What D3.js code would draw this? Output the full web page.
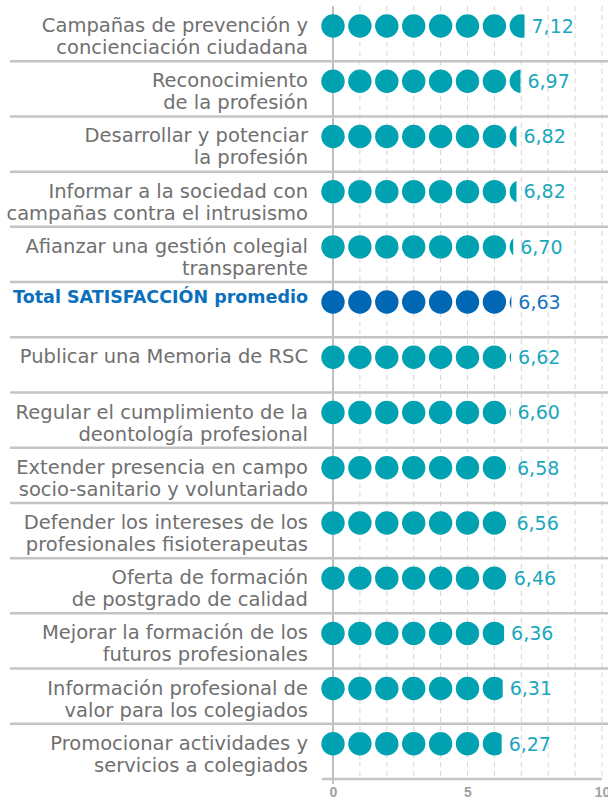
<!DOCTYPE html>
<html>
<head>
<meta charset="utf-8">
<script src="https://cdn.jsdelivr.net/npm/d3@7"></script>
<style>
  body { margin: 0; background: #fff; }
  svg { display: block; font-family: "DejaVu Sans", sans-serif; }
</style>
</head>
<body>
<div id="chart"></div>
<script>
var categories = [
  "Campañas de prevención y\nconcienciación ciudadana",
  "Reconocimiento\nde la profesión",
  "Desarrollar y potenciar\nla profesión",
  "Informar a la sociedad con\ncampañas contra el intrusismo",
  "Afianzar una gestión colegial\ntransparente",
  "Total SATISFACCIÓN promedio",
  "Publicar una Memoria de RSC",
  "Regular el cumplimiento de la\ndeontología profesional",
  "Extender presencia en campo\nsocio-sanitario y voluntariado",
  "Defender los intereses de los\nprofesionales fisioterapeutas",
  "Oferta de formación\nde postgrado de calidad",
  "Mejorar la formación de los\nfuturos profesionales",
  "Información profesional de\nvalor para los colegiados",
  "Promocionar actividades y\nservicios a colegiados"
];
var values = [7.12, 6.97, 6.82, 6.82, 6.70, 6.63, 6.62, 6.60, 6.58, 6.56, 6.46, 6.36, 6.31, 6.27];
var totalLabel = "Total SATISFACCIÓN promedio";
var tickValues = [0, 5, 10];

var width = 608, height = 800;
var teal = "#00a2b2", blue = "#0067b4";

var svg = d3.select("#chart").append("svg")
  .attr("width", width)
  .attr("height", height);

var x = d3.scaleLinear().domain([0, 10]).range([333, 602]);
var y = d3.scaleBand().domain(categories).range([6, 779]);
var bw = y.bandwidth();
var r = 11.7;

// dashed grid lines
svg.append("g").selectAll("line")
  .data(d3.range(1, 11))
  .enter().append("line")
    .attr("x1", function(d) { return x(d); })
    .attr("x2", function(d) { return x(d); })
    .attr("y1", 6)
    .attr("y2", 779)
    .attr("stroke", "#d6d6d6")
    .attr("stroke-width", 1)
    .attr("stroke-dasharray", "5,4");

// zero line
svg.append("line")
  .attr("x1", x(0)).attr("x2", x(0))
  .attr("y1", 6).attr("y2", 784)
  .attr("stroke", "#a8a8a8")
  .attr("stroke-width", 1.5);

// row separators
svg.append("g").selectAll("line")
  .data(categories.slice(0, -1))
  .enter().append("line")
    .attr("x1", 10)
    .attr("x2", width)
    .attr("y1", function(d) { return y(d) + bw; })
    .attr("y2", function(d) { return y(d) + bw; })
    .attr("stroke", "#c4c4c4")
    .attr("stroke-width", 2.5);

// bottom axis
var axis = svg.append("g")
  .attr("transform", "translate(0,779)")
  .call(d3.axisBottom(x).tickValues(tickValues).tickSize(0).tickPadding(8));
axis.select(".domain").remove();
axis.selectAll("text")
  .attr("font-size", 14)
  .attr("font-weight", "bold")
  .attr("fill", "#a0a0a0");
svg.append("line")
  .attr("x1", 322).attr("x2", 602)
  .attr("y1", 779).attr("y2", 779)
  .attr("stroke", "#c4c4c4")
  .attr("stroke-width", 2.5);

var rows = svg.append("g").selectAll("g")
  .data(categories)
  .enter().append("g")
    .attr("transform", function(d) { return "translate(0," + y(d) + ")"; });

var defs = svg.append("defs");
categories.forEach(function(c, i) {
  defs.append("clipPath").attr("id", "clip" + i)
    .append("rect")
      .attr("x", x(0) - r - 1)
      .attr("y", 0)
      .attr("width", x(values[i]) - x(0) + r + 1)
      .attr("height", bw);
});

var dotY = 20;

rows.each(function(c, i) {
  var g = d3.select(this);
  var v = values[i];
  var isTotal = c === totalLabel;
  var color = isTotal ? blue : teal;

  g.append("g")
    .attr("clip-path", "url(#clip" + i + ")")
    .selectAll("circle")
    .data(d3.range(0, Math.ceil(v) + 1))
    .enter().append("circle")
      .attr("cx", function(d) { return x(d); })
      .attr("cy", dotY)
      .attr("r", r)
      .attr("fill", color);

  g.append("text")
    .attr("x", x(v) + 7)
    .attr("y", dotY)
    .attr("dy", "0.36em")
    .attr("font-size", 19)
    .attr("fill", isTotal ? "#1a72c2" : "#1aa7bc")
    .text(d3.format(".2f")(v).replace(".", ","));

  var lines = c.split("\n");
  var t = g.append("text")
    .attr("text-anchor", "end")
    .attr("x", 308)
    .attr("y", isTotal ? 21 : 26)
    .attr("font-size", isTotal ? 17.5 : 19.5)
    .attr("font-weight", isTotal ? "bold" : "normal")
    .attr("fill", isTotal ? "#0a6fbd" : "#707070");
  lines.forEach(function(l, k) {
    t.append("tspan")
      .attr("x", 308)
      .attr("dy", k === 0 ? 0 : 22)
      .text(l);
  });
});
</script>
</body>
</html>
